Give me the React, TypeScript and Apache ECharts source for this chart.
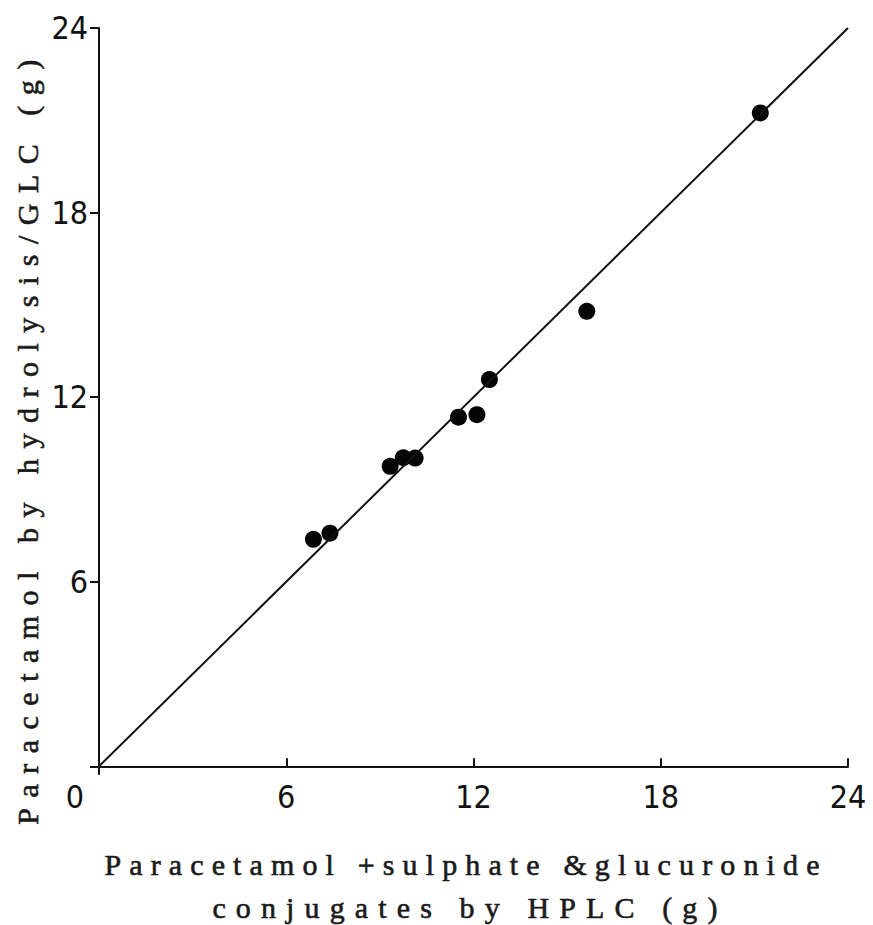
import React, { useEffect, useRef } from "react";
import * as echarts from "echarts";

// HPLC (x) vs hydrolysis/GLC (y), grams
const hplcValues = [6.87, 7.4, 9.33, 9.75, 10.13, 11.52, 12.11, 12.51, 15.63, 21.19];
const glcValues = [7.38, 7.58, 9.75, 10.03, 10.02, 11.35, 11.43, 12.57, 14.79, 21.24];
// line of identity
const identityX = [0, 24];
const identityY = [0, 24];
const xTickLabels = [0, 6, 12, 18, 24];
const xTicks = [6, 12, 18, 24];
const yTickLabels = [6, 12, 18, 24];
const yTicks = [0, 6, 12, 18, 24];

const xTitle1 = "Paracetamol +sulphate &glucuronide";
const xTitle2 = "conjugates by HPLC (g)";
const yTitle = "Paracetamol by hydrolysis/GLC (g)";

// typewritten titles: overall spread length in px
const titleSpread: Record<string, number> = {
  [xTitle1]: 715,
  [xTitle2]: 505,
  [yTitle]: 765,
};

const tickFont = "'Liberation Sans Narrow', 'DejaVu Sans Condensed', 'Liberation Sans', sans-serif";
const titleFont = "'Liberation Serif', 'DejaVu Serif', serif";
const titleStyle = `normal 30px ${titleFont}`;
const titleInk = "#1a1a1a";

export default function App() {
  const ref = useRef<HTMLDivElement>(null);
  useEffect(() => {
    document.body.style.margin = "0";
    const el = ref.current!;
    const chart = echarts.init(el, null, { renderer: "svg" });
    const titleText = (text: string, x: number, y: number) => ({
      text,
      x,
      y,
      align: "center",
      verticalAlign: "middle",
      fill: titleInk,
      stroke: titleInk,
      lineWidth: 0.6,
      font: titleStyle,
    });
    const option: any = {
      animation: false,
      backgroundColor: "#ffffff",
      grid: { left: 99, right: 25, top: 28, bottom: 151 },
      xAxis: {
        type: "value",
        min: 0,
        max: 24,
        splitLine: { show: false },
        axisLine: { show: true, onZero: true, lineStyle: { color: "#111", width: 2 } },
        axisTick: { show: true, inside: true, length: 8, customValues: xTicks, lineStyle: { color: "#111", width: 2 } },
        axisLabel: {
          show: true,
          customValues: xTickLabels,
          margin: 7,
          color: "#111",
          fontFamily: tickFont,
          fontSize: 32,
          formatter: (v: number) => (v === 0 ? "{z|0}" : String(v)),
          rich: { z: { padding: [0, 48, 0, 0], fontFamily: tickFont, fontSize: 32, color: "#111" } },
        },
      },
      yAxis: {
        type: "value",
        min: -0.25,
        max: 24,
        splitLine: { show: false },
        axisLine: { show: true, onZero: true, lineStyle: { color: "#111", width: 2 } },
        axisTick: { show: true, inside: false, length: 9, customValues: yTicks, lineStyle: { color: "#111", width: 2 } },
        axisLabel: {
          show: true,
          customValues: yTickLabels,
          margin: 11,
          color: "#111",
          fontFamily: tickFont,
          fontSize: 32,
          padding: [4, 0, 0, 0],
        },
      },
      graphic: [
        { type: "text", style: titleText(xTitle1, 466, 864) },
        { type: "text", style: titleText(xTitle2, 470, 907) },
        { type: "text", x: 27, y: 437, rotation: Math.PI / 2, style: titleText(yTitle, 0, 0) },
      ],
      series: [
        {
          type: "line",
          data: identityX.map((x, i) => [x, identityY[i]]),
          showSymbol: false,
          symbol: "none",
          lineStyle: { color: "#111", width: 2 },
          silent: true,
        },
        {
          type: "scatter",
          data: hplcValues.map((x, i) => [x, glcValues[i]]),
          symbol: "circle",
          symbolSize: 17,
          itemStyle: { color: "#050505", opacity: 1 },
        },
      ],
    };
    chart.setOption(option);
    const apply = () => {
      el.querySelectorAll("text").forEach((node) => {
        const t = node as SVGTextElement;
        const txt = (t.textContent || "").trim();
        const target = titleSpread[txt];
        if (target === undefined) return;
        t.style.letterSpacing = "0px";
        let w = 0;
        try {
          w = t.getComputedTextLength();
        } catch (e) {
          w = 0;
        }
        const n = txt.length;
        const s = w > 0 ? (target - w) / Math.max(1, n - 1) : 6;
        t.style.letterSpacing = s.toFixed(2) + "px";
      });
    };
    apply();
    chart.on("finished", apply);
    const timer = setTimeout(apply, 50);
    return () => {
      clearTimeout(timer);
      chart.dispose();
    };
  }, []);
  return (
    <div
      ref={ref}
      style={{ position: "absolute", left: 0, top: 0, width: 873, height: 925 }}
    />
  );
}
